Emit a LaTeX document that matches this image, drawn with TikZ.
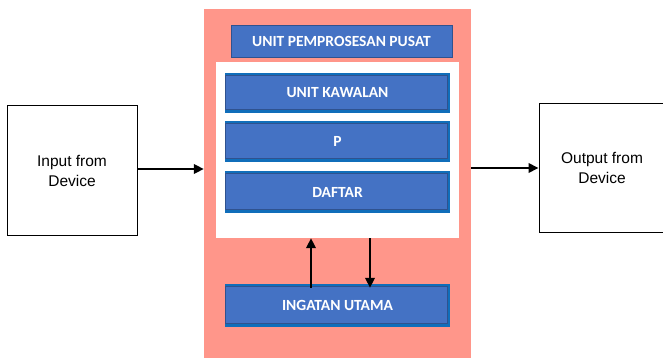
\documentclass[tikz,border=0pt]{standalone}
\usepackage{fontspec}
\setmainfont{Liberation Sans}
\newfontfamily\unitfont{Carlito}
\usetikzlibrary{arrows.meta}
\definecolor{salmon}{RGB}{255,150,138}
\definecolor{boxblue}{RGB}{68,114,196}
\definecolor{stripblue}{RGB}{16,110,186}
\definecolor{boxline}{RGB}{47,82,143}
\tikzset{
  unitbox/.style={fill=stripblue, minimum width=225pt, minimum height=#1,
    inner sep=0pt, text=white, font=\unitfont\bfseries\fontsize{15.5}{17}\selectfont,
    path picture={\draw[boxline, fill=boxblue]
      ([shift={(0pt,-2.5pt)}]path picture bounding box.north west) rectangle
      ([shift={(-3pt,4pt)}]path picture bounding box.south east);}},
  devbox/.style={draw, line width=1pt, align=center, inner sep=0pt,
    font=\fontsize{15.5}{20}\selectfont},
  arr/.style={line width=2pt, -{Triangle[length=10pt,width=9.5pt]}}
}
\begin{document}
\begin{tikzpicture}[x=1pt, y=-1pt]
  \useasboundingbox (0,0) rectangle (663,358);
  % cpu block
  \node[fill=salmon, minimum width=267pt, minimum height=352pt, inner sep=0pt] (pusat) at (337.5,185) {};
  \node[fill=white, minimum width=243pt, minimum height=176pt, inner sep=0pt] (dalam) at (337.5,150) {};
  \node[fill=boxblue, draw=boxline, minimum width=221pt, minimum height=32pt, inner sep=0pt,
    text=white, font=\unitfont\bfseries\fontsize{15.5}{17}\selectfont] (tajuk) at (341.5,41) {UNIT PEMPROSESAN PUSAT};
  \node[unitbox=40pt] (kawalan) at (337.5,93) {UNIT KAWALAN};
  \node[unitbox=41pt] (p) at (337.5,141.5) {P};
  \node[unitbox=42pt] (daftar) at (337.5,192) {DAFTAR};
  \node[unitbox=43pt] (ingatan) at (337.5,305.5) {INGATAN UTAMA};
  % devices
  \node[devbox, minimum width=130pt, minimum height=129pt] (input) at (72,170.5) {Input from\\Device};
  \node[devbox, minimum width=126pt, minimum height=128pt] (output) at (602,168) {Output from\\Device};
  % arrows
  \draw[arr] ([yshift=1.5pt]input.east) -- ([yshift=1.5pt]input.east -| pusat.west);
  \draw[arr] (pusat.east |- output.west) -- (output.west);
  \draw[arr] ([xshift=-26.5pt, yshift=-4pt]ingatan.north) -- ([xshift=-26.5pt]dalam.south);
  \draw[arr] ([xshift=32.5pt]dalam.south) -- ([xshift=32.5pt, yshift=-4pt]ingatan.north);
\end{tikzpicture}
\end{document}
